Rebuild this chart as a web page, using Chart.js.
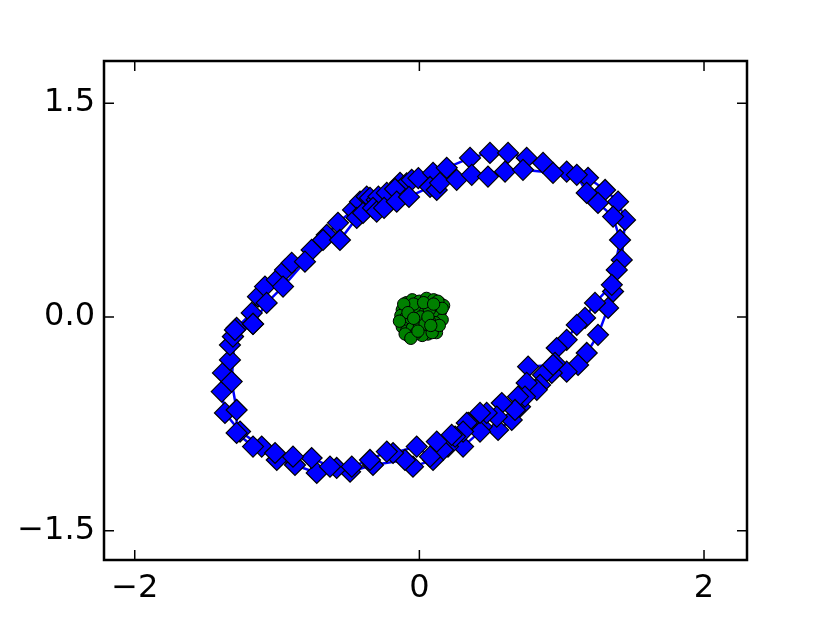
<!DOCTYPE html>
<html>
<head>
<meta charset="utf-8">
<script src="https://cdn.jsdelivr.net/npm/chart.js@4"></script>
<style>
  html, body { margin: 0; padding: 0; background: #fff; }
  #wrap { width: 830px; height: 623px; }
</style>
</head>
<body>
<div id="wrap"><canvas id="c" width="830" height="623"></canvas></div>
<script>
// ---- data ----
// blue diamonds, first lap (outer track)
const loopAX = [-1.310,-1.284,-1.178,-1.134,-1.085,-1.002,-0.944,-0.897,-0.757,-0.651,-0.572,-0.466,-0.417,-0.370,-0.347,-0.300,-0.288,-0.229,-0.136,-0.089,-0.054,-0.007,0.096,0.192,0.356,0.496,0.623,0.754,0.869,1.035,1.185,1.305,1.396,1.445,1.422,1.387,1.361,1.326,1.255,1.176,1.115,1.035,0.930,0.869,0.848,0.825,0.707,0.649,0.553,0.438,0.426,0.307,0.201,0.166,0.096,-0.045,-0.101,-0.326,-0.487,-0.581,-0.721,-0.874,-1.002,-1.108,-1.260,-1.366,-1.389,-1.380,-1.331,-1.331,-1.310];
const loopAY = [-0.138,-0.077,0.028,0.142,0.213,0.260,0.330,0.379,0.470,0.576,0.660,0.751,0.809,0.844,0.835,0.821,0.844,0.870,0.941,0.938,0.962,0.974,1.011,1.046,1.116,1.151,1.151,1.116,1.081,1.020,0.976,0.891,0.809,0.681,0.400,0.330,0.178,0.063,-0.126,-0.253,-0.337,-0.384,-0.393,-0.407,-0.477,-0.512,-0.630,-0.723,-0.793,-0.770,-0.805,-0.910,-0.910,-0.934,-1.004,-1.051,-1.004,-1.039,-1.086,-1.060,-1.095,-1.039,-1.004,-0.910,-0.805,-0.674,-0.524,-0.393,-0.302,-0.197,-0.138];
// blue diamonds, second lap (inner track)
const loopBX = [-1.169,-1.073,-0.958,-0.804,-0.677,-0.558,-0.440,-0.396,-0.326,-0.300,-0.248,-0.171,-0.159,-0.073,0.075,0.122,0.145,0.262,0.368,0.482,0.602,0.728,0.939,1.106,1.176,1.255,1.361,1.410,1.352,1.234,1.164,1.106,1.035,0.965,0.953,0.939,0.764,0.754,0.742,0.693,0.672,0.579,0.544,0.473,0.426,0.344,0.333,0.307,0.251,0.227,0.122,0.075,-0.019,-0.185,-0.229,-0.347,-0.475,-0.628,-0.757,-0.888,-1.014,-1.169,-1.284,-1.284,-1.319,-1.296,-1.169];
const loopBY = [-0.049,0.098,0.213,0.388,0.540,0.540,0.695,0.730,0.765,0.739,0.765,0.898,0.809,0.842,0.912,0.891,0.941,0.962,0.997,0.985,1.020,1.032,1.011,0.997,0.870,0.800,0.704,0.540,0.225,0.098,-0.007,-0.056,-0.161,-0.218,-0.323,-0.337,-0.349,-0.463,-0.559,-0.559,-0.653,-0.604,-0.700,-0.674,-0.674,-0.744,-0.744,-0.805,-0.840,-0.828,-0.875,-0.981,-0.910,-0.955,-0.945,-1.004,-1.051,-1.051,-0.990,-0.981,-0.955,-0.910,-0.814,-0.653,-0.454,-0.091,-0.049];
// green circles near the origin
const greenX = [-0.12,-0.09,-0.05,0.00,0.05,0.10,0.14,0.17,0.15,0.12,0.08,0.03,-0.02,-0.07,-0.13,-0.10,-0.06,-0.01,0.04,0.09,0.13,0.16,0.11,0.07,0.02,-0.03,-0.08,-0.12,-0.09,-0.05,0.00,0.05,0.10,0.06,0.02,-0.03,-0.07,0.01,0.04,0.07,-0.04,0.12,-0.10,-0.06,-0.11,0.13,0.16,0.09,-0.01,0.03,-0.08,0.10,0.14,-0.14,0.06,-0.04,0.08];
const greenY = [0.05,0.10,0.12,0.11,0.13,0.12,0.10,0.08,0.04,0.06,0.08,0.07,0.06,0.07,0.01,-0.01,0.02,0.03,0.03,0.02,0.00,-0.02,-0.04,-0.03,-0.02,-0.04,-0.05,-0.07,-0.10,-0.08,-0.07,-0.08,-0.09,-0.12,-0.13,-0.12,-0.14,0.00,-0.05,0.05,0.09,-0.11,-0.12,-0.15,0.09,0.11,0.06,-0.11,-0.10,0.10,0.03,0.09,-0.06,-0.03,0.00,-0.01,-0.06];
// axes
const xTicks = [-2, 0, 2];
const xTickLabels = ['\u22122', '0', '2'];
const yTicks = [-1.5, 0, 1.5];
const yTickLabels = ['\u22121.5', '0.0', '1.5'];
const xRange = [-2.216, 2.302];
const yRange = [-1.706, 1.796];

// ---- build datasets ----
const blueData = loopAX.map((v, i) => ({x: v, y: loopAY[i]}))
  .concat(loopBX.map((v, i) => ({x: v, y: loopBY[i]})));
const greenData = greenX.map((v, i) => ({x: v, y: greenY[i]}));

const framePlugin = {
  id: 'frame',
  afterDraw(chart) {
    const {ctx, chartArea: a, scales: {x, y}} = chart;
    ctx.save();
    ctx.strokeStyle = '#000';
    ctx.lineWidth = 1.5;
    ctx.beginPath();
    xTicks.forEach(v => {
      const px = x.getPixelForValue(v);
      ctx.moveTo(px, a.bottom); ctx.lineTo(px, a.bottom - 10);
      ctx.moveTo(px, a.top); ctx.lineTo(px, a.top + 10);
    });
    yTicks.forEach(v => {
      const py = y.getPixelForValue(v);
      ctx.moveTo(a.left, py); ctx.lineTo(a.left + 10, py);
      ctx.moveTo(a.right, py); ctx.lineTo(a.right - 10, py);
    });
    ctx.stroke();
    ctx.lineWidth = 2.5;
    ctx.strokeRect(a.left, a.top, a.right - a.left, a.bottom - a.top);
    ctx.restore();
  }
};

const tickFont = {family: 'DejaVu Sans', size: 32};

new Chart(document.getElementById('c'), {
  type: 'scatter',
  data: {
    datasets: [
      {
        data: blueData,
        showLine: true,
        borderColor: '#0000ff',
        borderWidth: 2.5,
        pointStyle: 'rectRot',
        pointRadius: 10.5,
        pointBackgroundColor: '#0000ff',
        pointBorderColor: '#000',
        pointBorderWidth: 1.2
      },
      {
        data: greenData,
        showLine: false,
        pointStyle: 'circle',
        pointRadius: 6.2,
        pointBackgroundColor: '#008000',
        pointBorderColor: '#000',
        pointBorderWidth: 1
      }
    ]
  },
  options: {
    responsive: false,
    animation: false,
    events: [],
    layout: {padding: {top: 61, right: 83, left: 0, bottom: 0}},
    plugins: {legend: {display: false}, tooltip: {enabled: false}},
    scales: {
      x: {
        type: 'linear',
        min: xRange[0], max: xRange[1],
        border: {display: false},
        grid: {display: false, drawTicks: false},
        afterBuildTicks: s => { s.ticks = xTicks.map(v => ({value: v})); },
        afterFit: s => { s.height = 63; },
        ticks: {
          color: '#000', font: tickFont, padding: 9, maxRotation: 0,
          callback: (v, i) => xTickLabels[i]
        }
      },
      y: {
        type: 'linear',
        min: yRange[0], max: yRange[1],
        border: {display: false},
        grid: {display: false, drawTicks: false},
        afterBuildTicks: s => { s.ticks = yTicks.map(v => ({value: v})); },
        afterFit: s => { s.width = 104; },
        ticks: {
          color: '#000', font: tickFont, padding: 9,
          callback: (v, i) => yTickLabels[i]
        }
      }
    }
  },
  plugins: [framePlugin]
});
</script>
</body>
</html>
